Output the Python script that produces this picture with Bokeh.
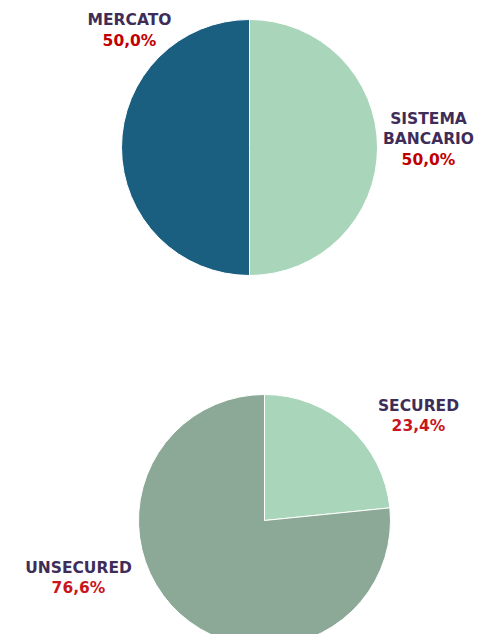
import numpy as np
from bokeh.plotting import figure
from bokeh.models import Range1d, ColumnDataSource
from bokeh.embed import file_html
from bokeh.resources import INLINE
from bokeh.core.properties import value

# ---- data ----
names1 = ["SISTEMA\nBANCARIO", "MERCATO"]
vals1 = [50.0, 50.0]
colors1 = ["#A9D5BA", "#1A5E80"]

names2 = ["SECURED", "UNSECURED"]
vals2 = [23.4, 76.6]
colors2 = ["#A9D5BA", "#8BA996"]

NAME_COLOR = "#3E2D58"
PCT_COLOR1 = "#C00000"
PCT_COLOR2 = "#C8161D"
FONT = "DejaVu Sans"
FSIZE = "15.5px"
LINE_GAP = 20.8

W, H = 474, 634
p = figure(width=W, height=H, x_range=Range1d(0, W), y_range=Range1d(0, H),
           output_backend="svg", toolbar_location=None, min_border=0)
p.axis.visible = False
p.grid.visible = False
p.outline_line_color = None
p.background_fill_color = "white"
p.border_fill_color = "white"


def px(x, y):
    # picture pixel -> data coords
    return x, H - y


def pie(vals, colors, cx, cy, r):
    v = np.array(vals, dtype=float)
    frac = v / v.sum()
    cum = np.concatenate([[0.0], np.cumsum(frac)])
    start = np.pi / 2 - cum[1:] * 2 * np.pi
    end = np.pi / 2 - cum[:-1] * 2 * np.pi
    x, y = px(cx, cy)
    src = ColumnDataSource(dict(start=start, end=end, color=colors))
    p.wedge(x=x, y=y, radius=r, start_angle="start", end_angle="end",
            fill_color="color", line_color="white", line_width=1, source=src)


def label(name, val, color, cx, cy):
    lines = name.split("\n") + [f"{val:.1f}".replace(".", ",") + "%"]
    xs, ys, cols = [], [], []
    for i, t in enumerate(lines):
        x, y = px(cx, cy + i * LINE_GAP)
        xs.append(x)
        ys.append(y)
        cols.append(NAME_COLOR if i < len(lines) - 1 else color)
    p.text(x=xs, y=ys, text=lines, text_color=cols, text_font=value(FONT),
           text_font_style="bold", text_font_size=FSIZE,
           text_align="center", text_baseline="middle")


pie(vals1, colors1, 249, 147, 128)
pie(vals2, colors2, 264, 520, 126)

label(names1[0], vals1[0], PCT_COLOR1, 428, 118)
label(names1[1], vals1[1], PCT_COLOR1, 129, 19.5)
label(names2[0], vals2[0], PCT_COLOR2, 418, 405)
label(names2[1], vals2[1], PCT_COLOR2, 78, 567)

open("out.html", "w").write(file_html(p, INLINE))
